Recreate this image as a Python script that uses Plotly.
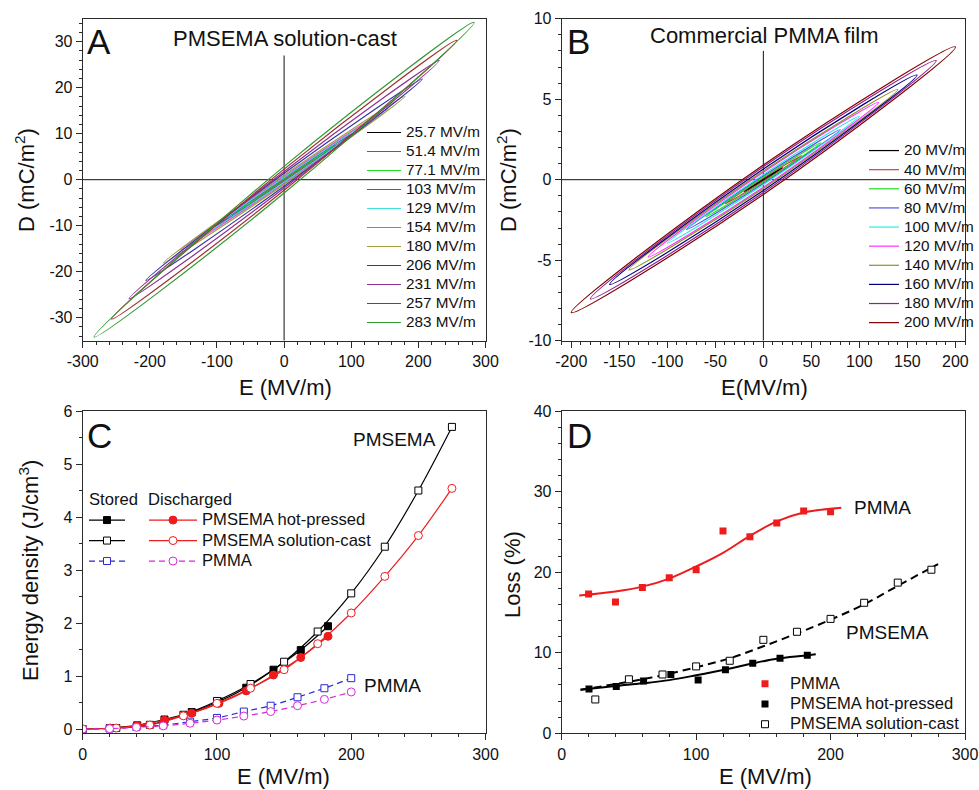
import plotly.graph_objects as go

FONT = "Liberation Sans, Arial, sans-serif"
W, H = 979, 790

# ---------------- Panel A: D-E loops, PMSEMA solution-cast ----------------
a_fields = [25.7, 51.4, 77.1, 103, 129, 154, 180, 206, 231, 257, 283]      # MV/m
a_dmax = [2.6, 5.1, 7.6, 10.2, 12.8, 15.3, 18.1, 21.9, 25.9, 30.3, 34.2]    # mC/m2 at loop tip
a_drem = [0.06, 0.15, 0.27, 0.4, 0.55, 0.8, 1.05, 1.4, 1.8, 2.3, 2.9]      # mC/m2 at E = 0
a_colors = ["#000000", "#a04848", "#22dd22", "#5555a5", "#40e0e0", "#d055d0",
            "#a0a040", "#3535a5", "#903090", "#a03030", "#309a30"]

# ---------------- Panel B: D-E loops, commercial PMMA film ----------------
b_fields = [20, 40, 60, 80, 100, 120, 140, 160, 180, 200]
b_dmax = [0.75, 1.5, 2.3, 3.1, 3.95, 4.8, 5.6, 6.5, 7.4, 8.25]
b_drem = [0.05, 0.1, 0.16, 0.24, 0.32, 0.47, 0.54, 0.67, 0.8, 0.92]
b_colors = ["#000000", "#c04848", "#22e022", "#5555e0", "#30e8e8", "#ff30ff",
            "#909025", "#000080", "#902090", "#800000"]

# ---------------- Panel C: energy density ----------------
hp_field = [20.3, 40.6, 60.9, 81.2, 101.5, 121.8, 142.1, 162.4, 182.7]
hp_stored = [0.02, 0.07, 0.18, 0.32, 0.52, 0.78, 1.12, 1.49, 1.94]
hp_disch = [0.019, 0.066, 0.168, 0.30, 0.485, 0.72, 1.02, 1.35, 1.75]

sc_field = [0, 25, 50, 75, 100, 125, 150, 175, 200, 225, 250, 275]
sc_stored = [0, 0.02, 0.08, 0.27, 0.53, 0.85, 1.27, 1.84, 2.56, 3.44, 4.50, 5.70]
sc_disch = [0, 0.019, 0.075, 0.25, 0.485, 0.77, 1.12, 1.61, 2.19, 2.88, 3.65, 4.54]

pm_field = [0, 20, 40, 60, 80, 100, 120, 140, 160, 180, 200]
pm_stored = [0, 0.01, 0.04, 0.075, 0.14, 0.21, 0.33, 0.44, 0.60, 0.77, 0.96]
pm_disch = [0, 0.008, 0.033, 0.06, 0.11, 0.17, 0.245, 0.33, 0.44, 0.56, 0.70]

# ---------------- Panel D: loss ----------------
pm_loss_field = [20, 40, 60, 80, 100, 120, 140, 160, 180, 200]
pm_loss = [17.3, 16.3, 18.1, 19.3, 20.3, 25.1, 24.4, 26.1, 27.6, 27.5]
hp_loss = [5.5, 5.8, 6.5, 7.3, 6.6, 7.9, 8.7, 9.3, 9.7]
sc_loss_field = [25, 50, 75, 100, 125, 150, 175, 200, 225, 250, 275]
sc_loss = [4.2, 6.7, 7.3, 8.3, 9.0, 11.6, 12.6, 14.2, 16.2, 18.7, 20.3]

# fitted trend curves
pm_fit_x = [13, 40, 60, 80, 100, 120, 140, 160, 180, 208]
pm_fit_y = [17.1, 17.6, 18.2, 19.2, 20.7, 22.4, 24.5, 26.3, 27.4, 28.0]
hp_fit_x = [14, 40, 60, 80, 100, 120, 140, 160, 180, 189]
hp_fit_y = [5.4, 5.87, 6.2, 6.6, 7.2, 7.85, 8.6, 9.26, 9.63, 9.8]
sc_fit_x = [14, 50, 75, 100, 125, 150, 175, 200, 225, 250, 280]
sc_fit_y = [5.4, 6.4, 7.2, 8.2, 9.3, 10.8, 12.4, 14.1, 16.0, 18.3, 21.0]

# tick labels
a_xticks = [-300, -200, -100, 0, 100, 200, 300]
a_yticks = [-30, -20, -10, 0, 10, 20, 30]
b_xticks = [-200, -150, -100, -50, 0, 50, 100, 150, 200]
b_yticks = [-10, -5, 0, 5, 10]
c_xticks = [0, 100, 200, 300]
c_yticks = [0, 1, 2, 3, 4, 5, 6]
d_xticks = [0, 100, 200, 300]
d_yticks = [0, 10, 20, 30, 40]

LEG_SMALL = 15.3
LEG_BIG = 16.6


def sized(text, size):
    return '<span style="font-size:%gpx">%s</span>' % (size, text)


def loop_path(emax, dmax, drem):
    # closed loop through the remanent points and both tips
    x = [0, -emax, 0, emax, 0]
    y = [drem, -dmax, -drem, dmax, drem]
    return x, y


fig = go.Figure()

for f, dm, dr, col in zip(a_fields, a_dmax, a_drem, a_colors):
    x, y = loop_path(f, dm, dr)
    fig.add_trace(go.Scatter(x=x, y=y, mode="lines", xaxis="x", yaxis="y",
                             line=dict(color=col, width=1.2, shape="spline", smoothing=1.3),
                             name=sized("%g MV/m" % f, LEG_SMALL), legend="legend"))

for f, dm, dr, col in zip(b_fields, b_dmax, b_drem, b_colors):
    x, y = loop_path(f, dm, dr)
    fig.add_trace(go.Scatter(x=x, y=y, mode="lines", xaxis="x2", yaxis="y2",
                             line=dict(color=col, width=1.2, shape="spline", smoothing=1.3),
                             name=sized("%g MV/m" % f, LEG_SMALL), legend="legend2"))

# Panel C: stored (black/blue squares) and discharged (red/magenta circles)
c_series = [
    # x, y, legend, name, line color, dash, symbol, fill
    (hp_field, hp_stored, "legend3", "", "#000000", "solid", "square", "#000000"),
    (sc_field, sc_stored, "legend3", "", "#000000", "solid", "square", "#ffffff"),
    (pm_field, pm_stored, "legend3", "", "#2a2ad0", "6px,4px", "square", "#ffffff"),
    (hp_field, hp_disch, "legend4", "PMSEMA hot-pressed", "#ee1c1c", "solid", "circle", "#ee1c1c"),
    (sc_field, sc_disch, "legend4", "PMSEMA solution-cast", "#ee1c1c", "solid", "circle", "#ffffff"),
    (pm_field, pm_disch, "legend4", "PMMA", "#d82ad8", "6px,4px", "circle", "#ffffff"),
]
for x, y, leg, nm, col, dash, sym, fill in c_series:
    fig.add_trace(go.Scatter(
        x=x, y=y, mode="lines+markers", xaxis="x3", yaxis="y3",
        line=dict(color=col, width=1.2, shape="spline", dash=dash),
        marker=dict(symbol=sym, size=7 if sym == "square" else 8, color=fill,
                    line=dict(color=col, width=1)),
        name=sized(nm, LEG_BIG) if nm else "", legend=leg))

# Panel D: fitted curves first, then data points
fig.add_trace(go.Scatter(x=pm_fit_x, y=pm_fit_y, mode="lines", xaxis="x4", yaxis="y4",
                         line=dict(color="#ee1c1c", width=2, shape="spline"), showlegend=False))
fig.add_trace(go.Scatter(x=hp_fit_x, y=hp_fit_y, mode="lines", xaxis="x4", yaxis="y4",
                         line=dict(color="#000000", width=2, shape="spline"), showlegend=False))
fig.add_trace(go.Scatter(x=sc_fit_x, y=sc_fit_y, mode="lines", xaxis="x4", yaxis="y4",
                         line=dict(color="#000000", width=2, shape="spline", dash="8px,5px"),
                         showlegend=False))
fig.add_trace(go.Scatter(x=pm_loss_field, y=pm_loss, mode="markers", xaxis="x4", yaxis="y4",
                         marker=dict(symbol="square", size=7, color="#ee1c1c"),
                         name=sized("PMMA", LEG_BIG), legend="legend5"))
fig.add_trace(go.Scatter(x=hp_field, y=hp_loss, mode="markers", xaxis="x4", yaxis="y4",
                         marker=dict(symbol="square", size=7, color="#000000"),
                         name=sized("PMSEMA hot-pressed", LEG_BIG), legend="legend5"))
fig.add_trace(go.Scatter(x=sc_loss_field, y=sc_loss, mode="markers", xaxis="x4", yaxis="y4",
                         marker=dict(symbol="square", size=7, color="#ffffff",
                                     line=dict(color="#000000", width=1)),
                         name=sized("PMSEMA solution-cast", LEG_BIG), legend="legend5"))


def axis(domain, rng, ticks, minor, anchor):
    return dict(domain=domain, range=rng, anchor=anchor, automargin=False,
                tickmode="array", tickvals=ticks, ticktext=[str(t) for t in ticks],
                showline=True, linecolor="#2a2a2a", linewidth=1, mirror=True,
                ticks="outside", ticklen=6, tickwidth=1, tickcolor="#2a2a2a",
                minor=dict(ticks="outside", dtick=minor, ticklen=3, tickwidth=1,
                           tickcolor="#2a2a2a", showgrid=False),
                showgrid=False, zeroline=False,
                tickfont=dict(size=16, family=FONT, color="#111111"))


def px_x(p):
    return p / W


def px_y(p):
    return 1 - p / H


dx_left = [px_x(82.7), px_x(485.5)]
dx_right = [px_x(561.7), px_x(965)]
dy_top = [px_y(340.7), px_y(18.7)]
dy_bot = [px_y(733.3), px_y(411)]

fig.update_layout(
    width=W, height=H, margin=dict(l=0, r=0, t=0, b=0, autoexpand=False),
    paper_bgcolor="white", plot_bgcolor="white",
    font=dict(family=FONT, color="#111111"),
    xaxis=axis(dx_left, [-300, 300], a_xticks, 20, "y"),
    yaxis=axis(dy_top, [-35, 35], a_yticks, 2, "x"),
    xaxis2=axis(dx_right, [-210, 210], b_xticks, 10, "y2"),
    yaxis2=axis(dy_top, [-10, 10], b_yticks, 1, "x2"),
    xaxis3=axis(dx_left, [0, 300], c_xticks, 20, "y3"),
    yaxis3=axis(dy_bot, [-0.08, 6], c_yticks, 0.5, "x3"),
    xaxis4=axis(dx_right, [0, 300], d_xticks, 20, "y4"),
    yaxis4=axis(dy_bot, [0, 40], d_yticks, 2, "x4"),
    legend=dict(x=px_x(362), y=px_y(118), xanchor="left", yanchor="top",
                bgcolor="rgba(0,0,0,0)", font=dict(size=12.3, family=FONT),
                itemwidth=34, tracegroupgap=0),
    legend2=dict(x=1, y=px_y(136), xanchor="right", yanchor="top",
                 bgcolor="rgba(0,0,0,0)", font=dict(size=12.4, family=FONT),
                 itemwidth=30, tracegroupgap=0),
    legend3=dict(x=px_x(84), y=px_y(504.8), xanchor="left", yanchor="top",
                 bgcolor="rgba(0,0,0,0)", font=dict(size=13.46, family=FONT),
                 itemwidth=36, tracegroupgap=0),
    legend4=dict(x=px_x(144), y=px_y(504.8), xanchor="left", yanchor="top",
                 bgcolor="rgba(0,0,0,0)", font=dict(size=13.46, family=FONT),
                 itemwidth=48, tracegroupgap=0),
    legend5=dict(x=px_x(740), y=px_y(668.5), xanchor="left", yanchor="top",
                 bgcolor="rgba(0,0,0,0)", font=dict(size=13.3, family=FONT),
                 itemwidth=40, tracegroupgap=0),
    showlegend=True,
)

# centre lines of the loop panels
line_style = dict(color="#111111", width=1)
fig.add_shape(type="line", xref="x", yref="y", x0=-300, x1=300, y0=0, y1=0, line=line_style, layer="below")
fig.add_shape(type="line", xref="x", yref="y", x0=0, x1=0, y0=-35, y1=27, line=line_style, layer="below")
fig.add_shape(type="line", xref="x2", yref="y2", x0=-210, x1=210, y0=0, y1=0, line=line_style, layer="below")
fig.add_shape(type="line", xref="x2", yref="y2", x0=0, x1=0, y0=-10, y1=8, line=line_style, layer="below")

ann = []


def add_text(text, x, y, size, xanchor="left", xref="paper", yref="paper", angle=0):
    ann.append(dict(text=text, x=x, y=y, xref=xref, yref=yref, xanchor=xanchor,
                    yanchor="middle", showarrow=False, textangle=angle,
                    font=dict(size=size, family=FONT, color="#111111")))


# axis titles
add_text("E (MV/m)", px_x(285), px_y(388), 22, "center")
add_text("E(MV/m)", px_x(764), px_y(388), 22, "center")
add_text("E (MV/m)", px_x(283), px_y(776), 22, "center")
add_text("E (MV/m)", px_x(765), px_y(776), 22, "center")
add_text("D (mC/m<sup>2</sup>)", px_x(25), px_y(180), 22, "center", angle=-90)
add_text("D (mC/m<sup>2</sup>)", px_x(507), px_y(180), 22, "center", angle=-90)
add_text("Energy density (J/cm<sup>3</sup>)", px_x(29), px_y(571), 22, "center", angle=-90)
add_text("Loss (%)", px_x(512), px_y(575), 22, "center", angle=-90)

# panel letters and headings
add_text("A", px_x(85), px_y(41), 35)
add_text("B", px_x(565), px_y(42), 35)
add_text("C", px_x(85), px_y(435), 35)
add_text("D", px_x(565), px_y(435), 35)
add_text("PMSEMA solution-cast", px_x(285), px_y(38), 22, "center")
add_text("Commercial PMMA film", px_x(764), px_y(35), 22, "center")
add_text("Stored", px_x(87), px_y(499), LEG_BIG)
add_text("Discharged", px_x(146), px_y(499), LEG_BIG)
# curve labels
add_text("PMSEMA", 200, 5.47, 19, xref="x3", yref="y3")
add_text("PMMA", 208, 0.83, 19, xref="x3", yref="y3")
add_text("PMMA", 216, 28.0, 19, xref="x4", yref="y4")
add_text("PMSEMA", 210, 12.5, 19, xref="x4", yref="y4")
fig.update_layout(annotations=ann)

fig.write_html("out.html")
